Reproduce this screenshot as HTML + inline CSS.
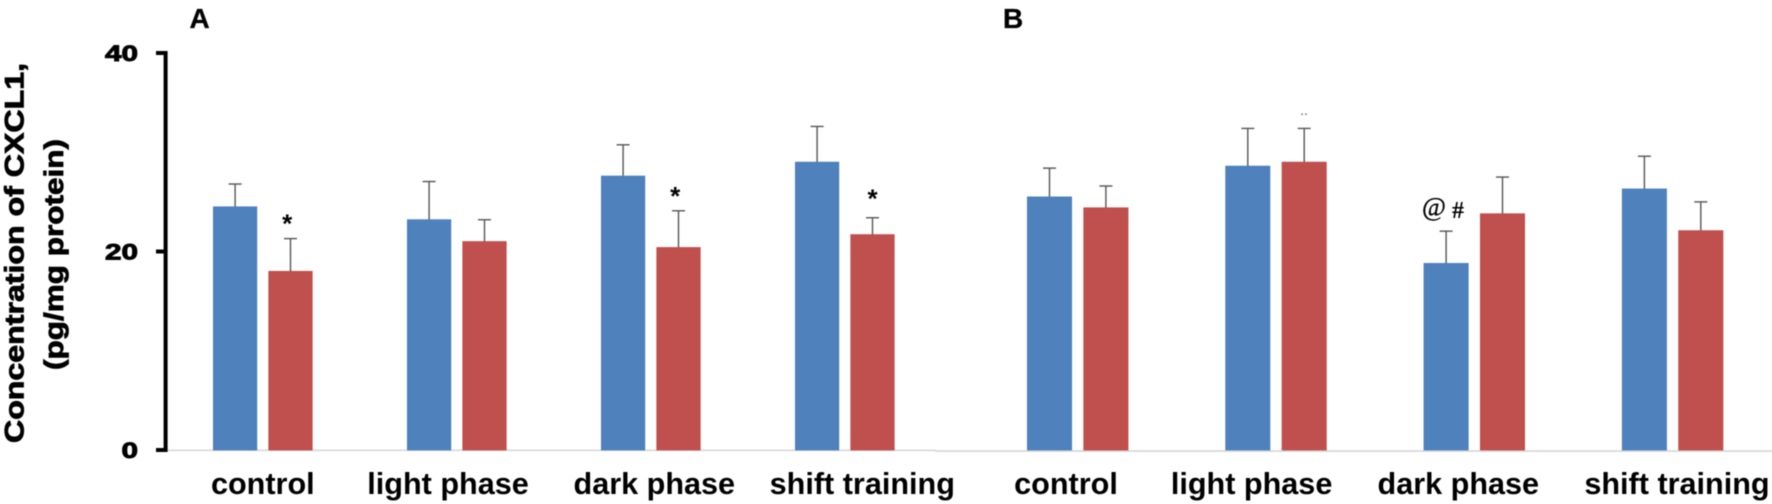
<!DOCTYPE html>
<html lang="en">
<head>
<meta charset="utf-8">
<title>Concentration of CXCL1</title>
<style>
html,body{margin:0;padding:0;background:#fff;width:1772px;height:504px;overflow:hidden}
svg{display:block;font-family:"Liberation Sans",Arial,sans-serif;filter:blur(0.4px)}
</style>
</head>
<body>
<svg id="chart" width="1772" height="504" viewBox="0 0 1772 504" xmlns="http://www.w3.org/2000/svg">
  <rect width="1772" height="504" fill="#ffffff"/>
  <text x="189.5" y="28" font-size="28" font-weight="700" stroke="#000" stroke-width="0.3" fill="#000">A</text>
  <text x="1003" y="28" font-size="28" font-weight="700" stroke="#000" stroke-width="0.3" fill="#000">B</text>
  <text transform="translate(23.5,443) rotate(-90)" font-size="27" font-weight="700" stroke="#000" stroke-width="0.8" textLength="380" lengthAdjust="spacingAndGlyphs" fill="#000">Concentration of CXCL1,</text>
  <text transform="translate(63,370) rotate(-90)" font-size="27" font-weight="700" stroke="#000" stroke-width="0.8" textLength="231" lengthAdjust="spacingAndGlyphs" fill="#000">(pg/mg protein)</text>
</svg>
<script>
const categories = ["control", "light phase", "dark phase", "shift training"];
const panelABlue = [24.5, 23.2, 27.6, 29.0];
const panelABlueErr = [2.3, 3.85, 3.15, 3.6];
const panelARed = [18.0, 21.0, 20.4, 21.7];
const panelARedErr = [3.3, 2.2, 3.7, 1.7];
const panelBBlue = [25.5, 28.6, 18.8, 26.3];
const panelBBlueErr = [2.9, 3.8, 3.25, 3.3];
const panelBRed = [24.4, 29.0, 23.8, 22.1];
const panelBRedErr = [2.2, 3.4, 3.7, 2.9];
const yTicks = [0, 20, 40];
const starredGroups = [0, 2, 3];

const svg = document.getElementById('chart');
const NS = 'http://www.w3.org/2000/svg';
const y0 = 450, pxPerUnit = 9.925;
function yScale(v) { return y0 - v * pxPerUnit; }
function groupCenter(panel, i) { return panel === 'a' ? 262.8 + i * 194 : 1077.7 + i * 198.3; }
function barWidth(panel) { return panel === 'a' ? 43.4 : 44.2; }
function barOffset(panel) { return panel === 'a' ? 27.7 : 28.2; }
function labelX(panel, i) {
  const nudge = panel === 'a' ? [0, -8.8, 3.5, 17.5] : [-11.7, -24.4, -16, 4.4];
  return groupCenter(panel, i) + nudge[i];
}
function make(tag, attrs, text) {
  const el = document.createElementNS(NS, tag);
  for (const k in attrs) el.setAttribute(k, attrs[k]);
  if (text !== undefined) el.textContent = text;
  svg.appendChild(el);
  return el;
}

// baselines
let el = make('rect', { x: 166, y: 449.6, width: 770, height: 1.5, fill: '#d6d6d6' });


el = make('rect', { x: 935, y: 450.2, width: 837, height: 1.7, fill: '#d6d6d6' });



// y axis
el = make('rect', { x: 163.6, y: yScale(40) - 2, width: 4, height: yScale(0) - yScale(40) + 4, fill: '#000' });


yTicks.forEach(function (t) {
  const tick = make('rect', { x: 156, y: yScale(t) - 2, width: 9, height: 4, fill: '#000' });
  
  
  const str = String(t);
  const label = make('text', { x: 138, y: yScale(t) + 8, 'text-anchor': 'end', 'font-size': 22, 'font-weight': 700, stroke: '#000', 'stroke-width': 0.9, fill: '#000', textLength: str.length * 16.5, lengthAdjust: 'spacingAndGlyphs' }, str);
  
  
});

function drawBars(panel, values, errs, side, fill, edge, seriesName) {
  values.forEach(function (v, i) {
    const w = barWidth(panel);
    const cx = groupCenter(panel, i) + side * barOffset(panel);
    const top = yScale(v);
    const errTop = yScale(v + errs[i]);
    const stem = make('line', { x1: cx, x2: cx, y1: top, y2: errTop, stroke: '#555', 'stroke-width': 1.4 });
    
    
    const cap = make('line', { x1: cx - 6.5, x2: cx + 6.5, y1: errTop, y2: errTop, stroke: '#555', 'stroke-width': 1.4 });
    
    
    const bar = make('rect', { x: cx - w / 2, y: top, width: w, height: y0 - top, fill: fill, stroke: edge, 'stroke-width': 0.8 });
    
    
  });
}
drawBars('a', panelABlue, panelABlueErr, -1, '#4f81bd', '#4a7ebd', 'panel-a-blue');
drawBars('a', panelARed, panelARedErr, 1, '#c0504d', '#bd4a48', 'panel-a-red');
drawBars('b', panelBBlue, panelBBlueErr, -1, '#4f81bd', '#4a7ebd', 'panel-b-blue');
drawBars('b', panelBRed, panelBRedErr, 1, '#c0504d', '#bd4a48', 'panel-b-red');

// category labels
['a', 'b'].forEach(function (panel) {
  categories.forEach(function (c, i) {
    const label = make('text', { x: labelX(panel, i), y: 494, 'text-anchor': 'middle', 'font-size': 30.6, 'font-weight': 700, fill: '#000' }, c);
    
    
  });
});

// significance markers
starredGroups.forEach(function (i) {
  const cx = groupCenter('a', i) + barOffset('a') - (i === 3 ? 0 : 3.3);
  const gap = i === 3 ? 10.5 : 6;
  const star = make('text', { x: cx, y: yScale(panelARed[i] + panelARedErr[i]) - gap, 'text-anchor': 'middle', 'font-size': 26, 'font-weight': 700, fill: '#000' }, '*');
  
  
});
const atSign = make('text', { x: 1434, y: 215.5, 'text-anchor': 'middle', 'font-size': 26, fill: '#000', stroke: '#000', 'stroke-width': 0.3, 'font-family': '"Liberation Serif",serif' }, '@');


const hash = make('text', { x: 1458, y: 218, 'text-anchor': 'middle', 'font-size': 24, 'font-weight': 700, fill: '#000', 'font-family': '"Liberation Serif",serif' }, '#');


const dots = make('text', { x: 1304, y: 115, 'text-anchor': 'middle', 'font-size': 14, fill: '#555' }, '..');


</script>
</body>
</html>
